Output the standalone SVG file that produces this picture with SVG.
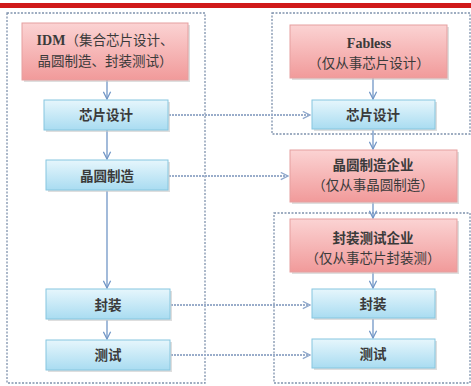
<svg xmlns="http://www.w3.org/2000/svg" width="471" height="386" viewBox="0 0 471 386">
<defs>
<linearGradient id="gRed" x1="0" y1="0" x2="0" y2="1">
<stop offset="0" stop-color="#fbd3d3"/><stop offset="1" stop-color="#f19a9a"/>
</linearGradient>
<linearGradient id="gBlue" x1="0" y1="0" x2="0" y2="1">
<stop offset="0" stop-color="#e6f6fc"/><stop offset="1" stop-color="#a9dcf1"/>
</linearGradient>
<marker id="arr" viewBox="0 0 10 10" refX="9" refY="5" markerWidth="9" markerHeight="9" markerUnits="userSpaceOnUse" orient="auto">
<path d="M1,1 L9,5 L1,9" fill="none" stroke="#7196c6" stroke-width="1.4"/>
</marker>
<marker id="arrD" viewBox="0 0 10 10" refX="9" refY="5" markerWidth="9" markerHeight="9" markerUnits="userSpaceOnUse" orient="auto">
<path d="M1,1 L9,5 L1,9" fill="none" stroke="#8fa8cc" stroke-width="1.4"/>
</marker>
</defs>
<style>
.cont{fill:none;stroke:#7f92ad;stroke-width:1.3;stroke-dasharray:2,1.5}
.red{fill:url(#gRed);stroke:#e5a0a0;stroke-width:1}
.blue{fill:url(#gBlue);stroke:#86c6df;stroke-width:1}
.sh{fill:#c8c8c8;opacity:0.6}
.t{font-family:"Noto Sans CJK SC","Noto Sans",sans-serif;font-size:13.5px;fill:#3a3a3a;text-anchor:middle}
.b{font-weight:bold}
.lat{font-family:"Liberation Serif",serif;font-weight:bold}
.v{stroke:#7196c6;stroke-width:1.3;fill:none;marker-end:url(#arr)}
.d{stroke:#9aadca;stroke-width:2;stroke-dasharray:2,1;fill:none;marker-end:url(#arrD)}
</style>
<rect x="0" y="3" width="471" height="5" fill="#d01a1a"/>
<g id="containers">
<rect class="cont" x="7" y="13" width="198" height="370"/>
<rect class="cont" x="272" y="13" width="198" height="121"/>
<rect class="cont" x="274" y="213" width="196" height="170"/>
</g>
<g id="connectors">
<line class="v" x1="107" y1="80" x2="107" y2="99"/>
<line class="v" x1="107" y1="130" x2="107" y2="159"/>
<line class="v" x1="107" y1="191" x2="107" y2="288"/>
<line class="v" x1="107" y1="320" x2="107" y2="339"/>
<line class="v" x1="373" y1="78" x2="373" y2="99"/>
<line class="v" x1="373" y1="130" x2="373" y2="149"/>
<line class="v" x1="373" y1="202" x2="373" y2="218"/>
<line class="v" x1="373" y1="272" x2="373" y2="288"/>
<line class="v" x1="373" y1="319" x2="373" y2="338"/>
<line class="d" x1="169" y1="115" x2="310" y2="115"/>
<line class="d" x1="169" y1="176" x2="288" y2="176"/>
<line class="d" x1="171" y1="305" x2="310" y2="305"/>
<line class="d" x1="171" y1="355" x2="310" y2="355"/>
</g>
<g id="idm">
<rect class="sh" x="24" y="25" width="166" height="57"/>
<rect class="red" x="22" y="23" width="166" height="57"/>
<text class="t" x="105" y="45"><tspan class="lat" font-size="14">IDM</tspan>（集合芯片设计、</text>
<text class="t" x="105" y="66">晶圆制造、封装测试）</text>
</g>
<g id="left-design">
<rect class="sh" x="46" y="102" width="124" height="30"/>
<rect class="blue" x="44" y="100" width="124" height="30"/>
<text class="t b" x="106" y="120">芯片设计</text>
</g>
<g id="left-fab">
<rect class="sh" x="48" y="162" width="122" height="30"/>
<rect class="blue" x="46" y="160" width="122" height="30"/>
<text class="t b" x="107" y="181">晶圆制造</text>
</g>
<g id="left-pack">
<rect class="sh" x="48" y="291" width="124" height="30"/>
<rect class="blue" x="46" y="289" width="124" height="30"/>
<text class="t b" x="108" y="310">封装</text>
</g>
<g id="left-test">
<rect class="sh" x="48" y="342" width="124" height="30"/>
<rect class="blue" x="46" y="340" width="124" height="30"/>
<text class="t b" x="108" y="360">测试</text>
</g>
<g id="fabless">
<rect class="sh" x="292" y="27" width="157" height="53"/>
<rect class="red" x="290" y="25" width="157" height="53"/>
<text class="t" x="369" y="48"><tspan class="lat" font-size="14">Fabless</tspan></text>
<text class="t" x="369" y="68">（仅从事芯片设计）</text>
</g>
<g id="right-design">
<rect class="sh" x="314" y="102" width="123" height="29"/>
<rect class="blue" x="312" y="100" width="123" height="29"/>
<text class="t b" x="373" y="120">芯片设计</text>
</g>
<g id="foundry">
<rect class="sh" x="292" y="152" width="167" height="52"/>
<rect class="red" x="290" y="150" width="167" height="52"/>
<text class="t b" x="373" y="170">晶圆制造企业</text>
<text class="t" x="373" y="190">（仅从事晶圆制造）</text>
</g>
<g id="osat">
<rect class="sh" x="292" y="221" width="167" height="53"/>
<rect class="red" x="290" y="219" width="167" height="53"/>
<text class="t b" x="373" y="243">封装测试企业</text>
<text class="t" x="373" y="263">（仅从事芯片封装测）</text>
</g>
<g id="right-pack">
<rect class="sh" x="314" y="291" width="123" height="29"/>
<rect class="blue" x="312" y="289" width="123" height="29"/>
<text class="t b" x="373" y="309">封装</text>
</g>
<g id="right-test">
<rect class="sh" x="314" y="341" width="123" height="29"/>
<rect class="blue" x="312" y="339" width="123" height="29"/>
<text class="t b" x="373" y="359">测试</text>
</g>
</svg>
